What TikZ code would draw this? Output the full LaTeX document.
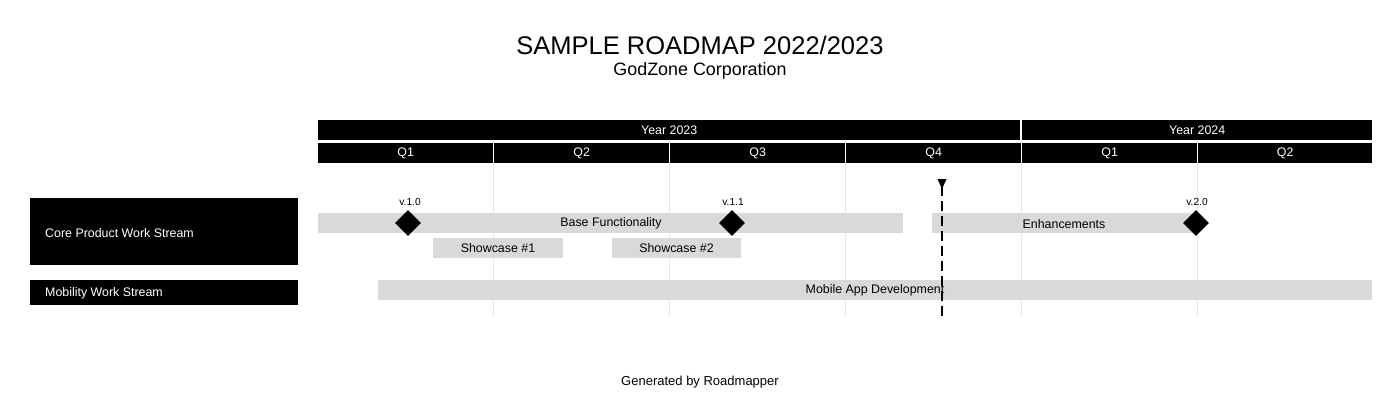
\documentclass[tikz,border=0pt]{standalone}
\usepackage{fontspec}
\setmainfont{Liberation Sans}
\usetikzlibrary{shapes.geometric}
\definecolor{barg}{HTML}{D9D9D9}
\definecolor{gridg}{HTML}{E6E6E6}
\begin{document}
\begin{tikzpicture}[x=1pt,y=-1pt,
  hdr/.style={fill=black,draw=none,text=white,font=\fontsize{12.4}{14}\selectfont,inner sep=0pt,anchor=north west},
  lane/.style={fill=black,draw=none,inner sep=0pt,anchor=north west},
  task/.style={fill=barg,draw=none,inner sep=0pt,anchor=north west},
  body/.style={inner sep=0pt,font=\fontsize{12.4}{14}\selectfont},
  ms/.style={diamond,fill=black,draw=none,minimum width=26pt,minimum height=26pt,inner sep=0pt},
  mslab/.style={font=\fontsize{10.2}{11}\selectfont,inner sep=0pt},
  gridline/.style={draw=gridg,line width=1pt},
  txt/.style={inner sep=0pt}]
\useasboundingbox (0,0) rectangle (1400,420);
% title
\node[txt,font=\fontsize{25.5}{28}\selectfont] (title) at (700,45.5) {SAMPLE ROADMAP 2022/2023};
\node[txt,font=\fontsize{17.9}{20}\selectfont] (sub) at (700,70.5) {GodZone Corporation};
% grid lines
\foreach \gx in {493,669,845,1021,1197} \draw[gridline] (\gx,163) -- (\gx,316);
% year bar
\node[hdr,minimum width=702pt,minimum height=20pt] (y23) at (318,120) {Year 2023};
\node[hdr,minimum width=350pt,minimum height=20pt] (y24) at (1022,120) {Year 2024};
% quarters
\node[hdr,minimum width=175pt,minimum height=20pt] (q1) at (318,143) {Q1};
\node[hdr,minimum width=175pt,minimum height=20pt] (q2) at (494,143) {Q2};
\node[hdr,minimum width=175pt,minimum height=20pt] (q3) at (670,143) {Q3};
\node[hdr,minimum width=175pt,minimum height=20pt] (q4) at (846,143) {Q4};
\node[hdr,minimum width=175pt,minimum height=20pt] (q5) at (1022,143) {Q1};
\node[hdr,minimum width=174pt,minimum height=20pt] (q6) at (1198,143) {Q2};
% lanes
\node[lane,minimum width=268pt,minimum height=67pt] (core) at (30,198) {};
\node[body,text=white,anchor=west] (coret) at (45,233) {Core Product Work Stream};
\node[lane,minimum width=268pt,minimum height=25pt] (mob) at (30,280) {};
\node[body,text=white,anchor=west] (mobt) at (45,293.5) {Mobility Work Stream};
% tasks
\node[task,minimum width=585pt,minimum height=20pt] (base) at (318,213) {};
\node[body] (baset) at (611,223.5) {Base Functionality};
\node[task,minimum width=264pt,minimum height=20pt] (enh) at (932,213) {};
\node[body] (enht) at (1064,224) {Enhancements};
\node[task,minimum width=130pt,minimum height=20pt] (sc1) at (433,238) {};
\node[body] (sc1t) at (498,248.5) {Showcase \#1};
\node[task,minimum width=129pt,minimum height=20pt] (sc2) at (612,238) {};
\node[body] (sc2t) at (676.5,248.5) {Showcase \#2};
\node[task,minimum width=994pt,minimum height=20pt] (mad) at (378,280) {};
\node[body] (madt) at (875,290.5) {Mobile App Development};
% milestones
\node[ms] (m1) at (408,223) {};
\node[mslab] (m1l) at (410,202) {v.1.0};
\node[ms] (m2) at (732,223) {};
\node[mslab] (m2l) at (733,202) {v.1.1};
\node[ms] (m3) at (1196,223) {};
\node[mslab] (m3l) at (1197,202) {v.2.0};
% today marker
\coordinate (tTop) at (942,186);
\coordinate (tBot) at (942,318);
\draw[line width=2pt,dash pattern=on 10pt off 5pt] (tTop) -- (tBot);
\fill (937.5,179) -- (946.5,179) -- (942,189) -- cycle;
% footer
\node[txt,font=\fontsize{13}{15}\selectfont] (foot) at (700,382.5) {Generated by Roadmapper};
\end{tikzpicture}
\end{document}
